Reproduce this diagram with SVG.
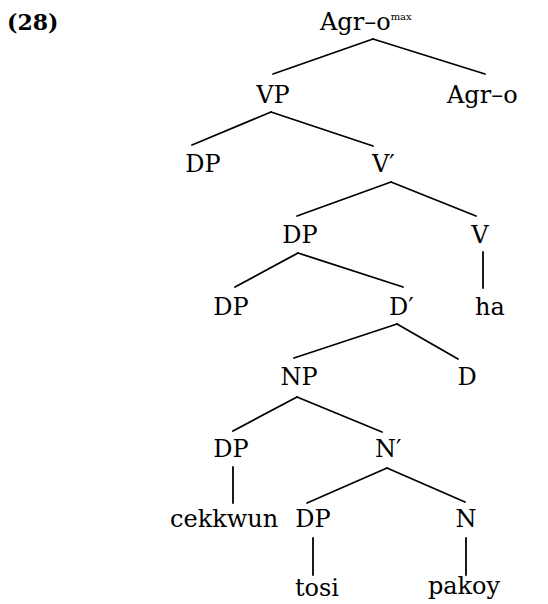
<svg xmlns="http://www.w3.org/2000/svg" width="548" height="604" viewBox="0 0 548 604">
<style>
text { font-family: "DejaVu Serif", "Liberation Serif", serif; font-size: 24px; fill: #000; }
.m { text-anchor: middle; }
.num { font-weight: bold; font-size: 22px; }
.sup { font-size: 10px; }
.e line { stroke: #000; stroke-width: 1.8; stroke-linecap: round; }
</style>
<rect width="548" height="604" fill="#fff"/>
<g id="label"><text class="num" x="7" y="30">(28)</text></g>
<g id="agromax"><text x="320" y="30">Agr–o<tspan class="sup" dy="-10">max</tspan></text></g>
<g id="vp"><text class="m" x="273" y="103">VP</text></g>
<g id="agro"><text x="447" y="103">Agr–o</text></g>
<g id="dp1"><text class="m" x="203" y="172">DP</text></g>
<g id="vbar"><text x="372" y="172">V′</text></g>
<g id="dp2"><text class="m" x="300" y="243">DP</text></g>
<g id="v"><text class="m" x="480" y="243">V</text></g>
<g id="dp3"><text class="m" x="231" y="315">DP</text></g>
<g id="dbar"><text x="389" y="315">D′</text></g>
<g id="ha"><text class="m" x="490" y="315">ha</text></g>
<g id="np"><text class="m" x="299" y="385">NP</text></g>
<g id="d"><text class="m" x="467" y="385">D</text></g>
<g id="dp4"><text class="m" x="231" y="457">DP</text></g>
<g id="nbar"><text x="375" y="457">N′</text></g>
<g id="cekkwun"><text x="170" y="527">cekkwun</text></g>
<g id="dp5"><text class="m" x="313" y="527">DP</text></g>
<g id="n"><text class="m" x="466" y="527">N</text></g>
<g id="tosi"><text class="m" x="317" y="596">tosi</text></g>
<g id="pakoy"><text class="m" x="464" y="594">pakoy</text></g>
<g id="edges" class="e">
<line x1="373" y1="39" x2="273" y2="74"/>
<line x1="373" y1="39" x2="485" y2="74"/>
<line x1="271" y1="112" x2="192" y2="145"/>
<line x1="271" y1="112" x2="373" y2="146"/>
<line x1="391" y1="182" x2="297" y2="216"/>
<line x1="391" y1="182" x2="476" y2="216"/>
<line x1="298" y1="253" x2="235" y2="287"/>
<line x1="298" y1="253" x2="403" y2="287"/>
<line x1="483" y1="252" x2="483" y2="288"/>
<line x1="397" y1="324" x2="294" y2="358"/>
<line x1="397" y1="324" x2="458" y2="359"/>
<line x1="297" y1="397" x2="233" y2="431"/>
<line x1="297" y1="397" x2="382" y2="432"/>
<line x1="233" y1="467" x2="233" y2="503"/>
<line x1="387" y1="468" x2="307" y2="503"/>
<line x1="387" y1="468" x2="465" y2="502"/>
<line x1="313" y1="538" x2="313" y2="575"/>
<line x1="466" y1="538" x2="466" y2="575"/>
</g>
</svg>
